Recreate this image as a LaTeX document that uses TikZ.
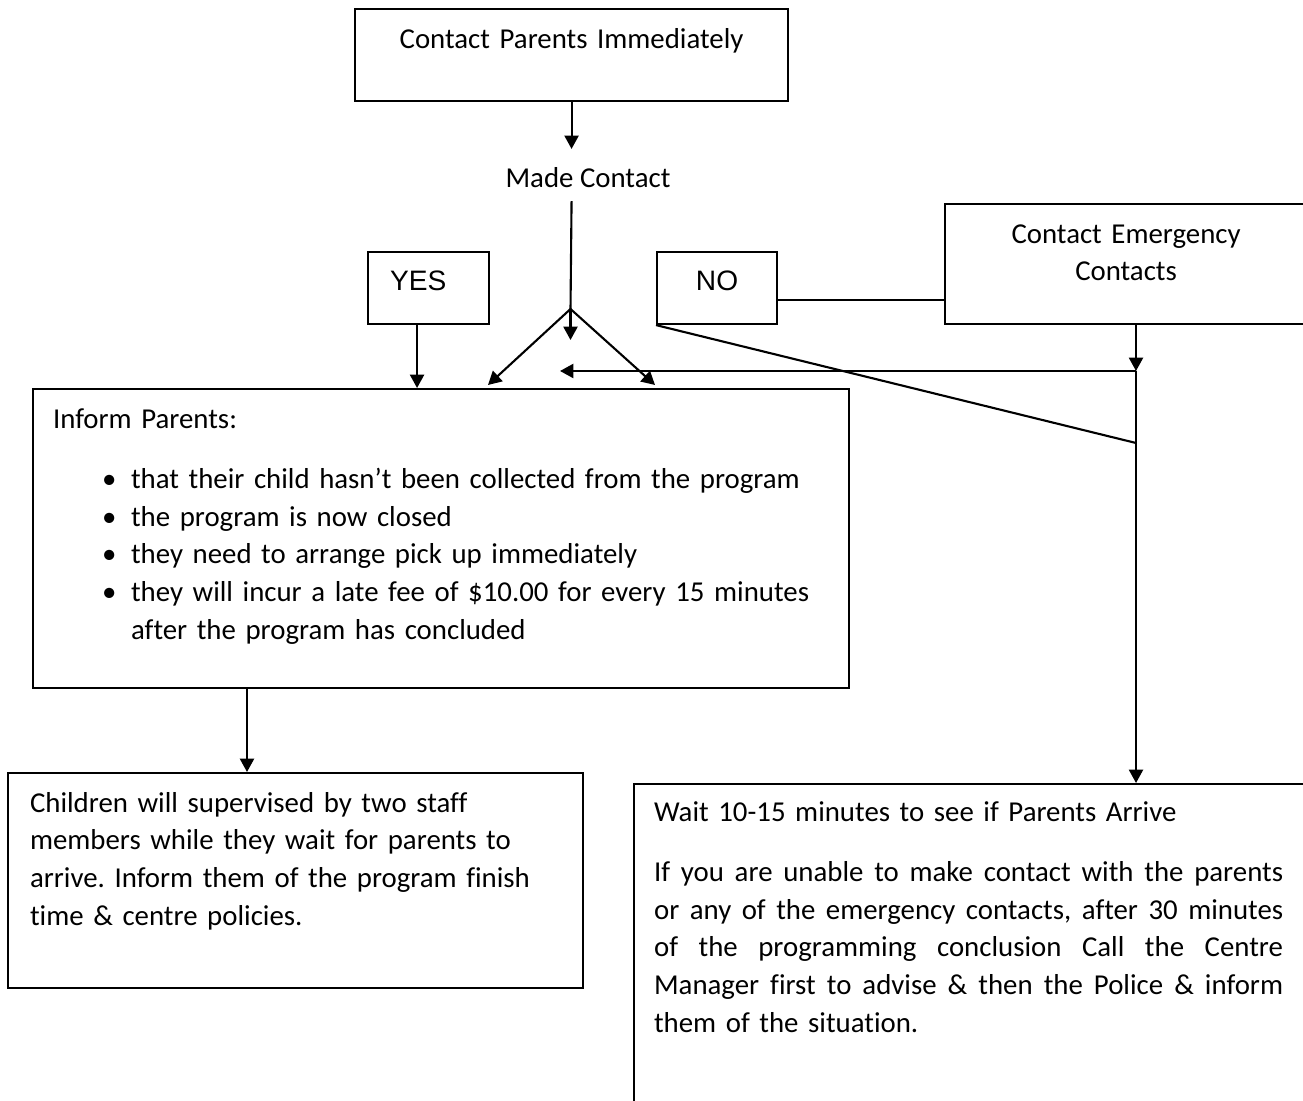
\documentclass[tikz,border=0pt]{standalone}
\usepackage{fontspec}
\setmainfont{Carlito}[Ligatures={TeX,NoCommon}]
\newfontfamily\arialfont{Liberation Sans}
\usetikzlibrary{arrows.meta}
\frenchspacing
\newcommand{\fullline}[1]{\makebox[6.29cm][s]{\spaceskip=0pt\relax #1}}

\begin{document}
\begin{tikzpicture}[line width=0.6pt,
	box/.style={draw, inner ysep=0pt, anchor=north west, font=\fontsize{8.2}{10.75}\selectfont},
	arr/.style={-{Triangle[length=3.8pt,width=4pt]}}]

	\useasboundingbox (0,0) rectangle (13.03,-11.01);
	\clip (0,0) rectangle (13.03,-11.01);

	\node[box, inner xsep=0pt, text width=4.33cm, align=center, text height=0.39cm, text depth=0.53cm] (start) at (3.54,-0.08) {Contact Parents Immediately};
	\node[inner sep=0pt, anchor=base, text height=0.38cm, text depth=0.12cm, font=\fontsize{8.2}{10.75}\selectfont] (made) at (5.88,-1.88) {Made Contact};

	\node[box, inner xsep=0.22cm, text width=0.77cm, align=left, text height=0.38cm, text depth=0.34cm, font=\arialfont\fontsize{8}{10}\selectfont] (yes) at (3.67,-2.51) {YES};
	\node[box, inner xsep=0pt, text width=1.20cm, align=center, text height=0.38cm, text depth=0.34cm, font=\arialfont\fontsize{8}{10}\selectfont] (no) at (6.56,-2.51) {NO};
	\node[box, inner xsep=0pt, text width=3.62cm, align=center, text height=0.39cm, text depth=0.81cm] (emerg) at (9.44,-2.03) {Contact Emergency\\Contacts};

	\node[box, inner xsep=0.20cm, text width=7.76cm, align=left, text height=0.39cm, text depth=2.60cm] (inform) at (0.32,-3.88) {Inform Parents:\\[0.225cm]
		\hspace*{0.49cm}\makebox[0.29cm][l]{\textbullet}that their child hasn’t been collected from the program\\
		\hspace*{0.49cm}\makebox[0.29cm][l]{\textbullet}the program is now closed\\
		\hspace*{0.49cm}\makebox[0.29cm][l]{\textbullet}they need to arrange pick up immediately\\
		\hspace*{0.49cm}\makebox[0.29cm][l]{\textbullet}they will incur a late fee of \$10.00 for every 15 minutes\\
		\hspace*{0.78cm}after the program has concluded};

	\node[box, inner xsep=0.22cm, text width=5.31cm, align=left, text height=0.39cm, text depth=1.76cm] (kids) at (0.07,-7.72) {Children will supervised by two staff\\
		members while they wait for parents to\\
		arrive. Inform them of the program finish\\
		time \& centre policies.};

	\node[box, inner xsep=0.20cm, text width=7.00cm, align=left, text height=0.37cm, text depth=2.90cm] (wait) at (6.33,-7.83) {Wait 10-15 minutes to see if Parents Arrive\\[0.225cm]
		\fullline{If you are unable to make contact with the parents}\\
		\fullline{or any of the emergency contacts, after 30 minutes}\\
		\fullline{of the programming conclusion Call the Centre}\\
		\fullline{Manager first to advise \& then the Police \& inform}\\
		them of the situation.};

	\coordinate (junc) at (5.705,-3.09);
	\coordinate (dtip) at (5.705,-3.40);
	\coordinate (ltip) at (4.88,-3.85);
	\coordinate (rtip) at (6.55,-3.85);
	\coordinate (tee) at (11.36,-3.71);
	\coordinate (htip) at (5.60,-3.71);
	\coordinate (cross) at (11.36,-4.43);
	\coordinate (drop) at (2.47,0);

	\draw[arr] (start.south) -- (start.south |- made.north);
	\draw (start.south |- made.south) -- (junc);
	\draw[arr] (junc) -- (dtip);
	\draw[arr] (junc) -- (ltip);
	\draw[arr] (junc) -- (rtip);
	\draw[arr] ([xshift=-0.115cm]yes.south) -- ([xshift=-0.115cm]yes.south |- inform.north);
	\draw ([yshift=-0.12cm]no.east) -- ([yshift=-0.12cm]no.east -| emerg.west);
	\draw (no.south west) -- (cross);
	\draw[arr] (tee |- emerg.south) -- (tee);
	\draw[arr] (tee) -- (htip);
	\draw[arr] (tee) -- (tee |- wait.north);
	\draw[arr] (drop |- inform.south) -- (drop |- kids.north);
\end{tikzpicture}
\end{document}
